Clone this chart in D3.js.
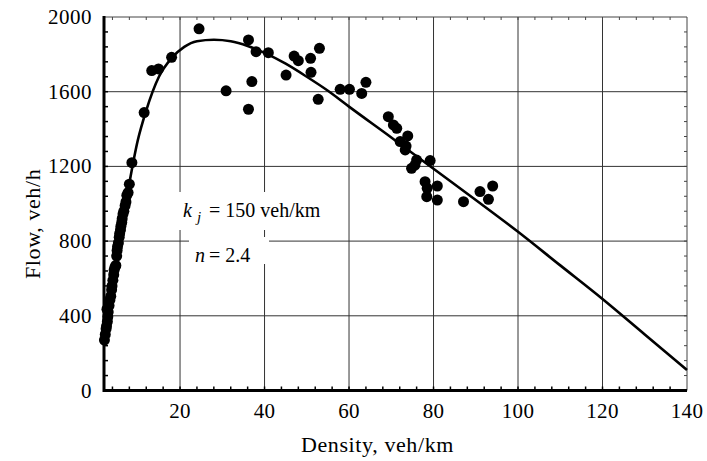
<!DOCTYPE html>
<html><head><meta charset="utf-8">
<script src="https://cdn.jsdelivr.net/npm/d3@7"></script>
<style>body{margin:0;background:#fff}</style>
</head><body><svg id="c" width="707" height="461" font-family="'Liberation Serif', 'Times New Roman', Times, serif"></svg>
<script>
// ---- data ----
const xTickLabels = [20, 40, 60, 80, 100, 120, 140];
const yTickLabels = [0, 400, 800, 1200, 1600, 2000];
const density = [2.1,2.3,2.5,2.6,2.8,2.9,3.0,2.7,3.2,3.4,3.6,3.8,3.9,4.1,4.3,4.4,4.6,4.8,5.0,5.1,5.2,5.4,5.6,5.7,5.9,6.0,6.2,6.3,6.5,6.7,7.0,7.2,7.4,7.7,8.0,8.6,11.5,13.3,14.9,18.0,24.5,30.9,36.2,38.0,40.9,37.0,36.2,47.0,48.0,45.1,50.9,53.0,51.0,52.7,57.9,60.1,63.0,64.0,69.3,70.5,71.3,73.9,72.1,73.3,73.5,76.0,74.8,75.6,79.2,78.0,78.5,78.4,80.9,80.9,87.1,91.0,93.0,94.0];
const flow = [270,300,330,345,370,395,420,435,455,485,505,540,560,590,620,645,660,670,720,750,770,790,820,840,860,880,900,920,945,960,990,1010,1045,1060,1105,1220,1488,1713,1722,1784,1937,1605,1877,1814,1809,1654,1506,1791,1766,1689,1779,1832,1704,1559,1613,1613,1591,1650,1466,1422,1404,1363,1333,1288,1309,1234,1190,1207,1231,1118,1083,1038,1095,1020,1011,1065,1024,1095];
const curveDensity = [2, 4, 6, 8, 10, 12, 15, 18, 21, 24, 28, 32, 36, 40, 45, 50, 55, 60, 70, 80, 90, 100, 110, 120, 130, 140];
const curveFlow = [250, 560, 840, 1110, 1340, 1500, 1680, 1780, 1840, 1870, 1878, 1870, 1845, 1808, 1750, 1680, 1605, 1520, 1355, 1187, 1020, 850, 670, 490, 300, 110];

// ---- chart ----
const FONT = "'Liberation Serif', 'Times New Roman', Times, serif";
const svg = d3.select("#c");
const L = 104, R = 687, T = 17, B = 390.5;
const x = d3.scaleLinear().domain([2, 140]).range([L, R]);
const y = d3.scaleLinear().domain([0, 2000]).range([B, T]);

// grid
const g = svg.append("g");
g.selectAll(".vg").data(xTickLabels.filter(d => d < 140)).join("line")
  .attr("x1", d => x(d)).attr("x2", d => x(d)).attr("y1", T).attr("y2", B)
  .attr("stroke", "#333").attr("stroke-width", 1);
g.selectAll(".hg").data(yTickLabels.filter(d => d > 0 && d < 2000)).join("line")
  .attr("x1", L).attr("x2", R).attr("y1", d => y(d)).attr("y2", d => y(d))
  .attr("stroke", "#333").attr("stroke-width", 1);

// frame top/right thin
svg.append("line").attr("x1", L).attr("x2", R).attr("y1", T).attr("y2", T).attr("stroke", "#444").attr("stroke-width", 1);
svg.append("line").attr("x1", R).attr("x2", R).attr("y1", T).attr("y2", B).attr("stroke", "#444").attr("stroke-width", 1);

// minor ticks
const xMinor = d3.range(4, 140, 4);
const yMinor = d3.range(80, 2000, 80);
svg.selectAll(".xmb").data(xMinor).join("line").attr("x1", d => x(d)).attr("x2", d => x(d)).attr("y1", B).attr("y2", B - 4).attr("stroke", "#000").attr("stroke-width", 1.5);
svg.selectAll(".xmt").data(xMinor).join("line").attr("x1", d => x(d)).attr("x2", d => x(d)).attr("y1", T).attr("y2", T + 3).attr("stroke", "#444").attr("stroke-width", 1);
svg.selectAll(".yml").data(yMinor).join("line").attr("y1", d => y(d)).attr("y2", d => y(d)).attr("x1", L).attr("x2", L + 4).attr("stroke", "#000").attr("stroke-width", 1.5);
svg.selectAll(".ymr").data(yMinor).join("line").attr("y1", d => y(d)).attr("y2", d => y(d)).attr("x1", R).attr("x2", R - 3).attr("stroke", "#444").attr("stroke-width", 1);

// annotation boxes (white background covering grid)
svg.append("rect").attr("x", 172).attr("y", 192).attr("width", 148).attr("height", 38).attr("fill", "#fff");
svg.append("rect").attr("x", 189).attr("y", 237).attr("width", 80).attr("height", 27).attr("fill", "#fff");

// curve
const line = d3.line().x(d => x(d[0])).y(d => y(d[1])).curve(d3.curveMonotoneX);
svg.append("path").datum(d3.zip(curveDensity, curveFlow)).attr("d", line)
  .attr("fill", "none").attr("stroke", "#000").attr("stroke-width", 2.6);

// points
svg.selectAll(".pt").data(d3.zip(density, flow)).join("circle")
  .attr("cx", d => x(d[0])).attr("cy", d => y(d[1])).attr("r", 5.5).attr("fill", "#000");

// axes (thick)
svg.append("line").attr("x1", L).attr("x2", R).attr("y1", B).attr("y2", B).attr("stroke", "#000").attr("stroke-width", 3);
svg.append("line").attr("x1", L).attr("x2", L).attr("y1", T - 1).attr("y2", B + 1.5).attr("stroke", "#000").attr("stroke-width", 3);

// tick labels
svg.selectAll(".xl").data(xTickLabels).join("text").attr("font-family", FONT)
  .attr("x", d => x(d)).attr("y", 418).attr("text-anchor", "middle").attr("font-size", 21).attr("letter-spacing", 0.3).text(d => d);
svg.selectAll(".yl").data(yTickLabels).join("text").attr("font-family", FONT)
  .attr("x", 92).attr("y", d => y(d) + 7).attr("text-anchor", "end").attr("font-size", 21).attr("letter-spacing", 0.5).text(d => d);

// axis titles
svg.append("text").attr("font-family", FONT).attr("x", 301).attr("y", 452).attr("font-size", 22).attr("letter-spacing", 0.6).text("Density, veh/km");
svg.append("text").attr("font-family", FONT).attr("transform", "translate(40,279) rotate(-90)").attr("font-size", 22).attr("letter-spacing", 0.6).text("Flow, veh/h");

// annotations
const a1 = svg.append("text").attr("font-family", FONT).attr("x", 183).attr("y", 217).attr("font-size", 20);
a1.append("tspan").attr("font-style", "italic").text("k");
a1.append("tspan").attr("font-style", "italic").attr("font-size", 15).attr("dx", 5).attr("dy", 5).text("j");
a1.append("tspan").attr("dy", -5).attr("dx", 8).text("= 150 veh/km");
const a2 = svg.append("text").attr("font-family", FONT).attr("x", 195).attr("y", 262).attr("font-size", 20);
a2.append("tspan").attr("font-style", "italic").text("n");
a2.append("tspan").attr("dx", 4).text("= 2.4");
</script>
</body></html>
